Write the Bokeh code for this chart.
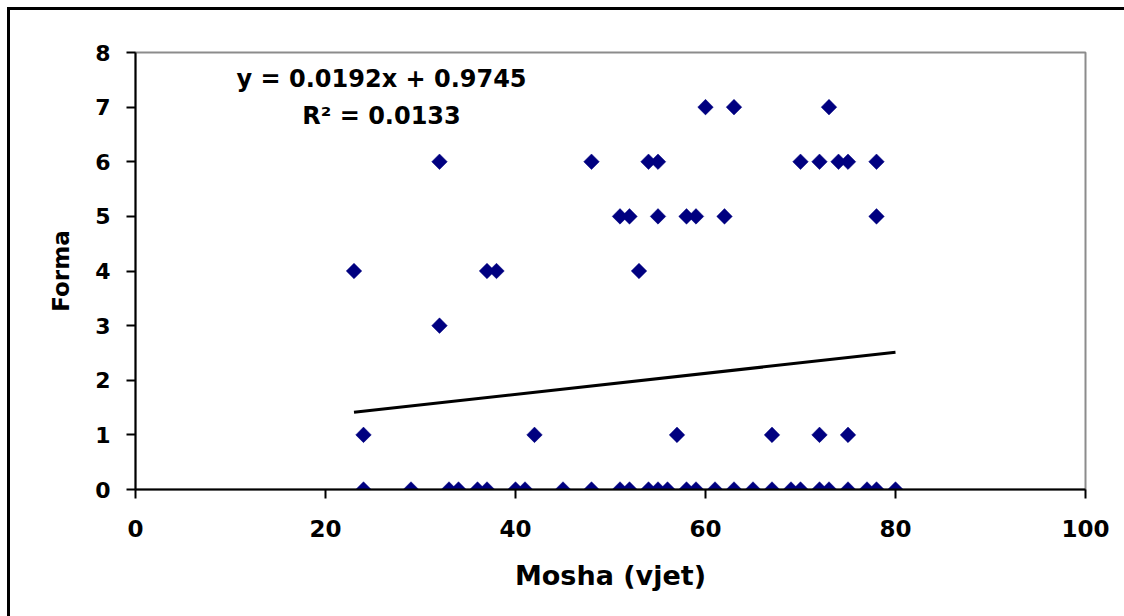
import math

from bokeh.embed import file_html
from bokeh.models import FixedTicker, InlineStyleSheet, Label, Range1d
from bokeh.plotting import figure
from bokeh.resources import INLINE

# Age (years) and "Forma" score, one entry per respondent
mosha = [
    24, 29, 33, 34, 36, 37, 40, 41, 45, 48, 51, 52, 54, 55, 56, 58, 59,
    61, 63, 65, 67, 69, 70, 72, 73, 75, 77, 78, 80,
    24, 42, 57, 67, 72, 75,
    32,
    23, 37, 38, 53,
    51, 52, 55, 58, 59, 62, 78,
    32, 48, 54, 55, 70, 72, 74, 75, 78,
    60, 63, 73,
]
forma = (
    [0] * 29
    + [1] * 6
    + [3] * 1
    + [4] * 4
    + [5] * 7
    + [6] * 9
    + [7] * 3
)

# Linear trend line (least squares fit shown on the chart)
slope = 0.0192
intercept = 0.9745
r_squared = 0.0133

x_ticks = [0, 20, 40, 60, 80, 100]
y_ticks = [0, 1, 2, 3, 4, 5, 6, 7, 8]

FONT = "DejaVu Sans"

# Outer chart-area border, drawn around the whole canvas
border_css = InlineStyleSheet(css="""
:host { position: relative; overflow: hidden; }
:host::after {
  content: "";
  position: absolute;
  left: 7px;
  top: 7px;
  width: 1300px;
  height: 800px;
  border: 3px solid black;
  box-sizing: border-box;
  pointer-events: none;
}
""")

p = figure(
    frame_width=950,
    frame_height=437,
    min_border_left=135,
    min_border_right=39,
    min_border_top=52,
    min_border_bottom=127,
    x_range=Range1d(0, 100),
    y_range=Range1d(0, 8),
    output_backend="svg",
    toolbar_location=None,
)
p.stylesheets = [border_css]

p.xgrid.visible = False
p.ygrid.visible = False
p.background_fill_color = "white"
p.border_fill_color = "white"
p.outline_line_color = "#8c8c8c"
p.outline_line_width = 2

for ax in (p.xaxis[0], p.yaxis[0]):
    ax.axis_line_color = "black"
    ax.axis_line_width = 2
    ax.major_tick_line_color = "black"
    ax.major_tick_line_width = 2
    ax.major_tick_in = 0
    ax.major_tick_out = 9
    ax.minor_tick_line_color = None
    ax.major_label_text_font = FONT
    ax.major_label_text_font_style = "bold"
    ax.major_label_text_color = "black"
    ax.axis_label_text_font = FONT
    ax.axis_label_text_font_style = "bold"
    ax.axis_label_text_color = "black"

p.xaxis.ticker = FixedTicker(ticks=x_ticks)
p.yaxis.ticker = FixedTicker(ticks=y_ticks)
p.xaxis.major_label_text_font_size = "23px"
p.yaxis.major_label_text_font_size = "22px"
p.xaxis.major_label_standoff = 21
p.yaxis.major_label_standoff = 16

p.xaxis.axis_label = "Mosha (vjet)"
p.yaxis.axis_label = "Forma"
p.xaxis.axis_label_text_font_size = "27px"
p.yaxis.axis_label_text_font_size = "23px"
p.xaxis.axis_label_standoff = 20
p.yaxis.axis_label_standoff = 18

# Trend line across the observed age range
x0, x1 = min(mosha), max(mosha)
p.line(
    [x0, x1],
    [slope * x0 + intercept, slope * x1 + intercept],
    line_color="black",
    line_width=3,
)

# Data points as navy diamonds
p.scatter(
    mosha,
    forma,
    marker="square",
    angle=math.pi / 4,
    size=11,
    fill_color="#000080",
    line_color="#000080",
    line_width=0.5,
)

eq_style = dict(
    text_font=FONT,
    text_font_style="bold",
    text_font_size="24px",
    text_color="black",
    text_align="center",
    text_baseline="middle",
)
p.add_layout(
    Label(x=25.9, y=7.52, text=f"y = {slope}x + {intercept}", **eq_style)
)
p.add_layout(Label(x=25.9, y=6.84, text=f"R\u00b2 = {r_squared}", **eq_style))

open("out.html", "w").write(file_html(p, INLINE))
